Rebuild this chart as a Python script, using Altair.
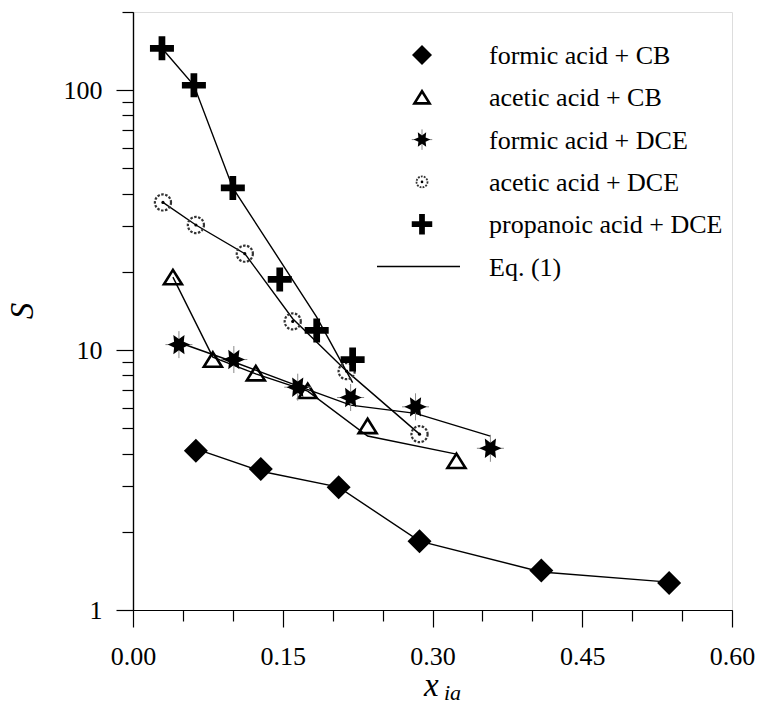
import math
import altair as alt
import pandas as pd

FONT = "Liberation Serif"

# ---- measured selectivity S versus acid mole fraction x_ia ----
series_names = [
    "formic acid + CB",
    "acetic acid + CB",
    "formic acid + DCE",
    "acetic acid + DCE",
    "propanoic acid + DCE",
]

x_fcb = [0.063, 0.128, 0.206, 0.287, 0.409, 0.537]
s_fcb = [4.10, 3.49, 2.97, 1.84, 1.42, 1.27]
m_fcb = [4.17, 3.42, 2.97, 1.84, 1.40, 1.28]

x_acb = [0.040, 0.080, 0.123, 0.175, 0.235, 0.324]
s_acb = [19.1, 9.2, 8.15, 6.97, 5.11, 3.75]
m_acb = [19.1, 9.4, 8.1, 6.95, 4.67, 3.98]

x_fdce = [0.046, 0.101, 0.165, 0.218, 0.283, 0.358]
s_fdce = [10.5, 9.2, 7.2, 6.57, 6.05, 4.19]
m_fdce = [10.7, 9.0, 7.29, 6.14, 5.71, 4.67]

x_adce = [0.030, 0.063, 0.112, 0.160, 0.214, 0.287]
s_adce = [37.0, 30.3, 23.5, 12.9, 8.30, 4.75]
m_adce = [37.0, 30.3, 23.5, 13.2, 8.30, 4.75]

x_pdce = [0.029, 0.061, 0.100, 0.147, 0.184, 0.220]
s_pdce = [145.0, 104.5, 42.1, 18.7, 11.9, 9.2]
m_pdce = [145.0, 104.5, 42.1, 22.2, 13.4, 7.5]

x_major = [0.0, 0.15, 0.30, 0.45, 0.60]
x_minor = [0.05, 0.10, 0.20, 0.25, 0.35, 0.40, 0.50, 0.55]
y_major = [1, 10, 100]
y_minor = [2, 3, 4, 5, 6, 7, 8, 9, 20, 30, 40, 50, 60, 70, 80, 90, 200]

xs = [x_fcb, x_acb, x_fdce, x_adce, x_pdce]
ss = [s_fcb, s_acb, s_fdce, s_adce, s_pdce]
ms = [m_fcb, m_acb, m_fdce, m_adce, m_pdce]

rows = []
for name, xv, sv, mv in zip(series_names, xs, ss, ms):
    for i, (a, b, c) in enumerate(zip(xv, sv, mv)):
        rows.append({"series": name, "x": a, "S": b, "model": c, "i": i})
df = pd.DataFrame(rows)

# ---- marker shapes (unit square paths) ----
DIAMOND = "M0,-1L1,0L0,1L-1,0Z"
TRIANGLE = "M0,-0.8L1,0.8L-1,0.8Z"
t = 0.28
PLUS = (f"M{-t},-1L{t},-1L{t},{-t}L1,{-t}L1,{t}L{t},{t}L{t},1L{-t},1"
        f"L{-t},{t}L-1,{t}L-1,{-t}L{-t},{-t}Z")
CROSS = "M0,-1L0,1M-1,0L1,0"
pts = []
for k in range(12):
    ang = math.radians(k * 30)
    r = 1.0 if k % 2 == 0 else 0.5
    pts.append(f"{r * math.cos(ang):.3f},{-r * math.sin(ang):.3f}")
STAR = "M" + "L".join(pts) + "Z"

xscale = alt.Scale(domain=[0, 0.6], nice=False, zero=False)
yscale = alt.Scale(type="log", domain=[1, 200], nice=False)

axis_common = dict(
    domainColor="black", domainWidth=1.2, tickColor="black", tickWidth=1.2,
    grid=False, title=None, labelFont=FONT, labelFontSize=26, labelColor="black",
)

x_major_axis = alt.Axis(values=x_major, format=".2f", tickSize=17, labelPadding=16,
                        orient="bottom", labelFlush=False, **axis_common)
x_minor_axis = alt.Axis(values=x_minor, labels=False, tickSize=11, orient="bottom",
                        **axis_common)
y_major_axis = alt.Axis(values=y_major, format="d", tickSize=17, labelPadding=14,
                        orient="left", labelFlush=False, **axis_common)
y_minor_axis = alt.Axis(values=y_minor, labels=False, tickSize=11, orient="left",
                        **axis_common)

base = alt.Chart(df)

# Eq. (1) curves
lines = base.mark_line(color="black", strokeWidth=1.4).encode(
    x=alt.X("x:Q", scale=xscale, axis=x_major_axis),
    y=alt.Y("model:Q", scale=yscale, axis=y_major_axis),
    detail="series:N",
    order="i:Q",
)


def sub(name):
    return base.transform_filter(alt.datum.series == name)


def enc(chart, xaxis=None, yaxis=None):
    return chart.encode(
        x=alt.X("x:Q", scale=xscale, axis=xaxis),
        y=alt.Y("S:Q", scale=yscale, axis=yaxis),
    )


diamonds = enc(sub(series_names[0]).mark_point(
    shape=DIAMOND, size=576, filled=True, color="black", strokeWidth=0, opacity=1),
    x_minor_axis, y_minor_axis)
triangles = enc(sub(series_names[1]).mark_point(
    shape=TRIANGLE, size=324, filled=False, color="black", strokeWidth=2.6, opacity=1))
star_cross = enc(sub(series_names[2]).mark_point(
    shape=CROSS, size=729, filled=False, color="#8a8a8a", strokeWidth=1, opacity=1))
stars = enc(sub(series_names[2]).mark_point(
    shape=STAR, size=500, filled=True, color="black", strokeWidth=0, opacity=1))
circles = enc(sub(series_names[3]).mark_point(
    shape="circle", size=260, filled=False, color="#333333", strokeWidth=2.2,
    strokeDash=[2.5, 1.5], opacity=1))
circle_dots = enc(sub(series_names[3]).mark_point(
    shape="circle", size=10, filled=True, color="black", strokeWidth=0, opacity=1))
pluses = enc(sub(series_names[4]).mark_point(
    shape=PLUS, size=576, filled=True, color="black", strokeWidth=0, opacity=1))

# ---- legend block ----
leg_sym_x = 289
leg_txt_x = 356
leg_top = 43
leg_step = 42.3
legend_labels = series_names + ["Eq. (1)"]
legend_df = pd.DataFrame({"label": legend_labels})

legend_layers = []
leg_marks = [
    [dict(shape=DIAMOND, size=400, filled=True, color="black", strokeWidth=0)],
    [dict(shape=TRIANGLE, size=230, filled=False, color="black", strokeWidth=2.6)],
    [dict(shape=CROSS, size=420, filled=False, color="#8a8a8a", strokeWidth=1),
     dict(shape=STAR, size=280, filled=True, color="black", strokeWidth=0)],
    [dict(shape="circle", size=120, filled=False, color="#333333", strokeWidth=1.8,
          strokeDash=[1.8, 1.2]),
     dict(shape="circle", size=7, filled=True, color="black", strokeWidth=0)],
    [dict(shape=PLUS, size=420, filled=True, color="black", strokeWidth=0)],
]
for k, label in enumerate(legend_labels):
    ypos = leg_top + k * leg_step
    row = alt.Chart(legend_df).transform_filter(alt.datum.label == label)
    if k < len(leg_marks):
        for props in leg_marks[k]:
            legend_layers.append(
                row.mark_point(opacity=1, **props).encode(
                    x=alt.value(leg_sym_x), y=alt.value(ypos)))
    else:
        legend_layers.append(
            row.mark_rule(color="black", strokeWidth=1.4).encode(
                x=alt.value(244), x2=alt.value(327), y=alt.value(ypos)))
    legend_layers.append(
        row.mark_text(align="left", baseline="middle", font=FONT, fontSize=26,
                      color="black").encode(
            x=alt.value(leg_txt_x), y=alt.value(ypos + 1), text="label:N"))

# ---- axis titles ----
title_df = pd.DataFrame({"t": ["S", "x", "ia"]})
y_title = alt.Chart(title_df).transform_filter(alt.datum.t == "S").mark_text(
    font=FONT, fontSize=33, fontStyle="italic", angle=270, align="center",
    baseline="middle", color="black").encode(
    x=alt.value(-110), y=alt.value(299), text="t:N")
x_title = alt.Chart(title_df).transform_filter(alt.datum.t == "x").mark_text(
    font=FONT, fontSize=33, fontStyle="italic", align="left",
    baseline="alphabetic", color="black").encode(
    x=alt.value(291), y=alt.value(684), text="t:N")
x_sub = alt.Chart(title_df).transform_filter(alt.datum.t == "ia").mark_text(
    font=FONT, fontSize=22, fontStyle="italic", align="left",
    baseline="alphabetic", color="black").encode(
    x=alt.value(311), y=alt.value(688), text="t:N")

chart = alt.layer(
    lines, diamonds, triangles, star_cross, stars, circles, circle_dots, pluses,
    *legend_layers, y_title, x_title, x_sub,
).resolve_axis(
    x="independent", y="independent"
).properties(
    width=599, height=598,
    autosize=alt.AutoSizeParams(type="none"),
    padding={"left": 133, "top": 12, "right": 25, "bottom": 96},
).configure_view(
    stroke="#333333", strokeWidth=1.2
).configure(background="white")

chart.save("out.html", embed_options={"renderer": "svg", "actions": False})
